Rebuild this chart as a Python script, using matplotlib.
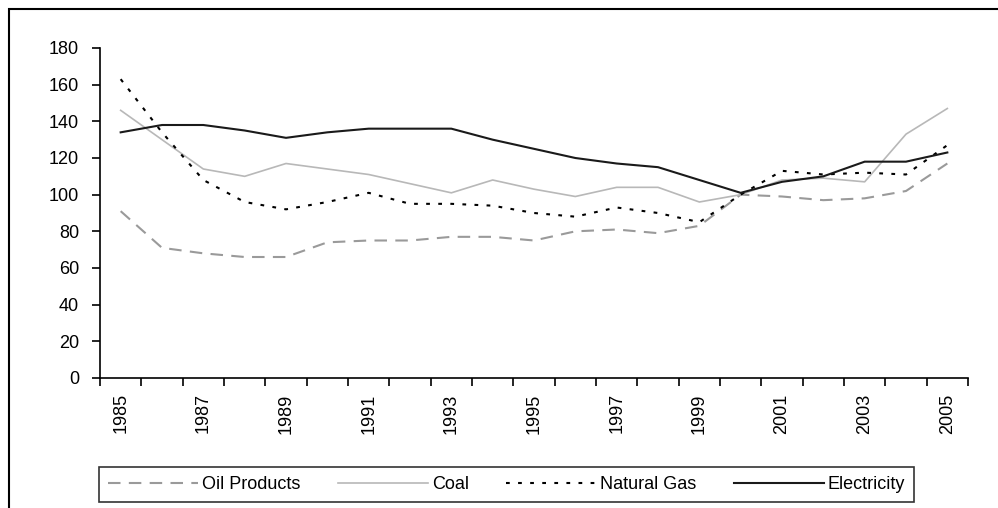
import matplotlib.pyplot as plt
import numpy as np
from matplotlib.patches import Rectangle

years = list(range(1985, 2006))

oil_products = [91, 71, 68, 66, 66, 74, 75, 75, 77, 77, 75, 80, 81, 79, 83,
                100, 99, 97, 98, 102, 117]
coal = [146, 130, 114, 110, 117, 114, 111, 106, 101, 108, 103, 99, 104, 104,
        96, 100, 108, 109, 107, 133, 147]
natural_gas = [163, 134, 108, 96, 92, 96, 101, 95, 95, 94, 90, 88, 93, 90,
               85, 100, 113, 111, 112, 111, 127]
electricity = [134, 138, 138, 135, 131, 134, 136, 136, 136, 130, 125, 120,
               117, 115, 108, 101, 107, 110, 118, 118, 123]

series_names = ["Oil Products", "Coal", "Natural Gas", "Electricity"]

plt.rcParams["font.family"] = ["Liberation Sans", "DejaVu Sans"]

fig = plt.figure(figsize=(9.98, 5.08), dpi=100)

# outer chart frame (only top and left edges are visible in the picture)
fig.patches.append(
    Rectangle(
        (9 / 998, -0.1),
        1.2,
        1.1 - 9 / 508,
        transform=fig.transFigure,
        fill=False,
        edgecolor="black",
        linewidth=1.5,
    )
)

ax = fig.add_axes([100 / 998, 1 - 378 / 508, 868 / 998, 330 / 508])

x = np.arange(len(years))
ax.plot(x, oil_products, color="#9a9a9a", linestyle=(0, (6, 4)), linewidth=1.5,
        label=series_names[0])
ax.plot(x, coal, color="#b8b8b8", linestyle="-", linewidth=1.2,
        label=series_names[1])
ax.plot(x, natural_gas, color="black", linestyle=(0, (1.8, 4)), linewidth=1.5,
        label=series_names[2])
ax.plot(x, electricity, color="#1a1a1a", linestyle="-", linewidth=1.5,
        label=series_names[3])

ax.set_xlim(-0.5, len(years) - 0.5)
ax.set_ylim(0, 180)
ax.set_yticks(np.arange(0, 181, 20))

ax.set_xticks(x[::2])
ax.set_xticklabels([str(y) for y in years[::2]], rotation=90)
ax.set_xticks(np.arange(-0.5, len(years)), minor=True)
ax.tick_params(axis="x", which="major", length=0, pad=11, labelsize=13)
ax.tick_params(axis="x", which="minor", length=6, width=1.2, direction="out")
ax.tick_params(axis="y", length=6, width=1.2, direction="out", labelsize=13,
               pad=9)

for side in ["top", "right"]:
    ax.spines[side].set_visible(False)
for side in ["left", "bottom"]:
    ax.spines[side].set_linewidth(1.2)

leg = fig.legend(
    loc="lower left",
    bbox_to_anchor=(99 / 998, 1 - 502 / 508, 815 / 998, 39 / 508),
    mode="expand",
    ncol=4,
    frameon=True,
    fancybox=False,
    edgecolor="black",
    fontsize=13,
    handlelength=5.0,
    handletextpad=0.2,
    borderpad=0.5,
    borderaxespad=0,
)
leg.get_frame().set_linewidth(1.2)

fig.savefig("out.png", dpi=100)
